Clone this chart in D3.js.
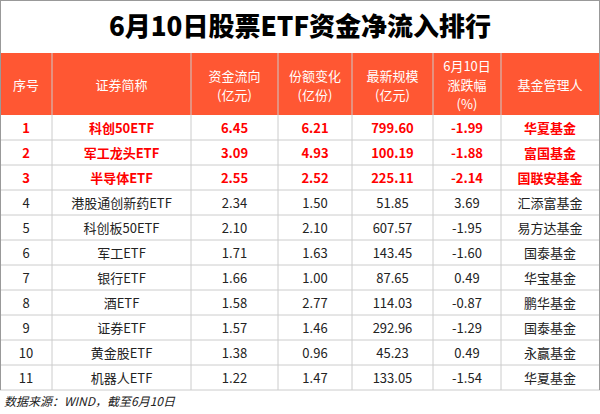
<!DOCTYPE html><html><head><meta charset="utf-8"><script src="https://cdn.jsdelivr.net/npm/d3@7"></script>
<style>body{margin:0;background:#fff}</style></head><body><svg id="c" width="600" height="414"></svg>
<script>
const title="6月10日股票ETF资金净流入排行";
const headers=[["序号"],["证券简称"],["资金流向","(亿元)"],["份额变化","(亿份)"],["最新规模","(亿元)"],["6月10日","涨跌幅","(%)"],["基金管理人"]];
const ranks=["1","2","3","4","5","6","7","8","9","10","11"];
const names=["科创50ETF","军工龙头ETF","半导体ETF","港股通创新药ETF","科创板50ETF","军工ETF","银行ETF","酒ETF","证券ETF","黄金股ETF","机器人ETF"];
const flows=[6.45,3.09,2.55,2.34,2.10,1.71,1.66,1.58,1.57,1.38,1.22];
const shares=[6.21,4.93,2.52,1.50,2.10,1.63,1.00,2.77,1.46,0.96,1.47];
const scale=[799.60,100.19,225.11,51.85,607.57,143.45,87.65,114.03,292.96,45.23,133.05];
const chg=[-1.99,-1.88,-2.14,3.69,-1.95,-1.60,0.49,-0.87,-1.29,0.49,-1.54];
const managers=["华夏基金","富国基金","国联安基金","汇添富基金","易方达基金","国泰基金","华宝基金","鹏华基金","国泰基金","永赢基金","华夏基金"];
const footnote="数据来源：WIND，截至6月10日";
const svg=d3.select("#c");const F="'Noto Sans CJK SC','Noto Sans',sans-serif";
const cols=[0,52,191,278,352,433,501,599];
const x=i=>(cols[i]+cols[i+1])/2;
const y=d3.scaleBand().domain(ranks).range([115,390]);
svg.append("rect").attr("x",0.5).attr("y",0.5).attr("width",599).attr("height",53).attr("fill","#fff").attr("stroke","#999");
svg.append("text").attr("x",300).attr("y",36).attr("text-anchor","middle").attr("font-family",F).attr("font-weight",900).attr("font-size",26).text(title);
svg.append("rect").attr("x",0).attr("y",53).attr("width",600).attr("height",62).attr("fill","#FF5733");
headers.forEach((h,i)=>{h.forEach((t,j)=>svg.append("text").attr("x",x(i)).attr("y",84+(j-(h.length-1)/2)*19+6).attr("text-anchor","middle").attr("font-family",F).attr("font-size",13).attr("fill","#fff").text(t));});
cols.slice(1,-1).forEach(c=>svg.append("line").attr("x1",c).attr("x2",c).attr("y1",53).attr("y2",390).attr("stroke","#ccc"));
const rows=ranks.map((r,i)=>[r,names[i],flows[i].toFixed(2),shares[i].toFixed(2),scale[i].toFixed(2),chg[i].toFixed(2),managers[i]]);
rows.forEach((row,i)=>{const yy=y(ranks[i]);const top=i<3;
svg.append("line").attr("x1",0).attr("x2",600).attr("y1",yy+y.bandwidth()).attr("y2",yy+y.bandwidth()).attr("stroke","#ccc");
row.forEach((t,k)=>svg.append("text").attr("x",x(k)).attr("y",yy+y.bandwidth()/2+5).attr("text-anchor","middle").attr("font-family",F).attr("font-size",13).attr("font-weight",top?700:400).attr("fill",top?"#f00":"#222").text(t));});
svg.append("line").attr("x1",0.5).attr("x2",0.5).attr("y1",53).attr("y2",390).attr("stroke","#999");
svg.append("line").attr("x1",599.5).attr("x2",599.5).attr("y1",53).attr("y2",390).attr("stroke","#999");
svg.append("text").attr("x",4).attr("y",406).attr("font-family",F).attr("font-style","italic").attr("font-size",12).attr("fill","#222").text(footnote);
</script></body></html>
